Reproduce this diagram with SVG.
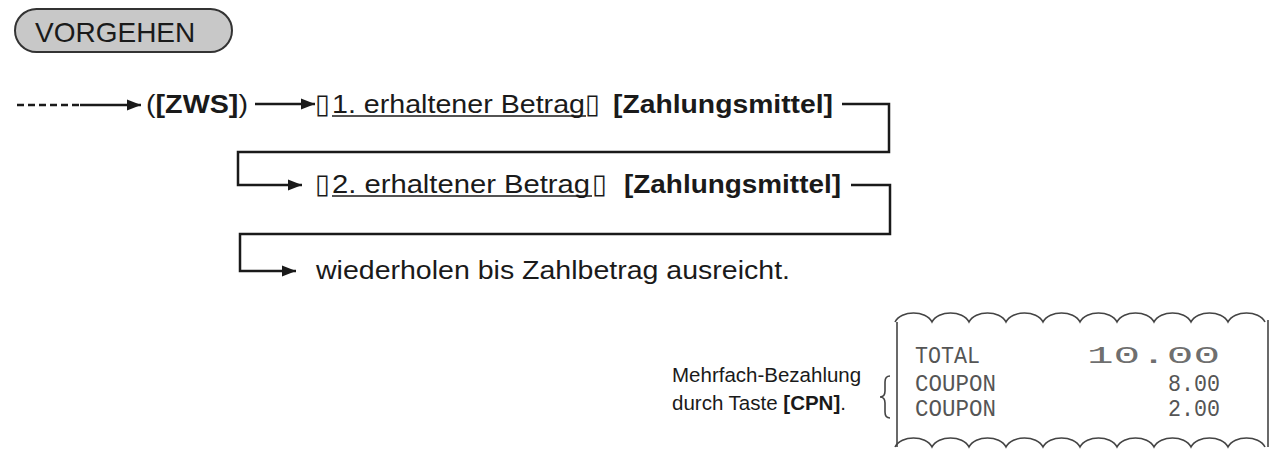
<svg xmlns="http://www.w3.org/2000/svg" width="1279" height="462" viewBox="0 0 1279 462">
<style>
.t{font-family:"Liberation Sans",Arial,sans-serif;fill:#1a1a1a}
.f{font-size:25px}
.b{font-weight:bold}
.tofu{font-family:"DejaVu Sans",sans-serif;font-size:27px;fill:#1a1a1a}
.ln{fill:none;stroke:#1a1a1a;stroke-width:2.5}
.rc{fill:none;stroke:#444;stroke-width:1.6}
.m{font-family:"Liberation Mono","DejaVu Sans Mono",monospace;font-size:23px;fill:#555}
</style>
<defs>
<marker id="ah" markerUnits="userSpaceOnUse" markerWidth="15" markerHeight="12" refX="14" refY="6" orient="auto">
<path d="M0,0.5 L14,6 L0,11.5 Z" fill="#1a1a1a"/>
</marker>
</defs>
<rect width="1279" height="462" fill="#fff"/>
<g id="vorgehen">
<rect x="15" y="9" width="217" height="43" rx="21.5" fill="#c8c8c8" stroke="#333" stroke-width="2"/>
<text class="t" x="35" y="42" font-size="28">VORGEHEN</text>
</g>
<g id="connectors">
<path class="ln" d="M17,105 H80" stroke-dasharray="7,4"/>
<path class="ln" d="M80,105 H141" marker-end="url(#ah)"/>
<path class="ln" d="M255,104 H315" marker-end="url(#ah)"/>
<path class="ln" d="M842,104 H889 V152 H238 V185 H302" marker-end="url(#ah)"/>
<path class="ln" d="M851,185 H890 V234 H240 V271 H296" marker-end="url(#ah)"/>
</g>
<g id="zws">
<text class="t f" x="146" y="113" textLength="102" lengthAdjust="spacingAndGlyphs">(<tspan class="b">[ZWS]</tspan>)</text>
</g>
<g id="step1">
<text class="tofu" x="315" y="113">▯</text>
<text class="t f" x="332" y="113" textLength="253" lengthAdjust="spacingAndGlyphs">1. erhaltener Betrag</text>
<line x1="332" y1="116" x2="586" y2="116" stroke="#1a1a1a" stroke-width="1.6"/>
<text class="tofu" x="585" y="113">▯</text>
<text class="t f b" x="613" y="113" textLength="220" lengthAdjust="spacingAndGlyphs">[Zahlungsmittel]</text>
</g>
<g id="step2">
<text class="tofu" x="315" y="193">▯</text>
<text class="t f" x="332" y="193" textLength="258" lengthAdjust="spacingAndGlyphs">2. erhaltener Betrag</text>
<line x1="332" y1="196" x2="592" y2="196" stroke="#1a1a1a" stroke-width="1.6"/>
<text class="tofu" x="592" y="193">▯</text>
<text class="t f b" x="624" y="193" textLength="217" lengthAdjust="spacingAndGlyphs">[Zahlungsmittel]</text>
</g>
<g id="repeat">
<text class="t f" x="316" y="279" textLength="474" lengthAdjust="spacingAndGlyphs">wiederholen bis Zahlbetrag ausreicht.</text>
</g>
<g id="note">
<text class="t" x="672" y="382" font-size="20.5">Mehrfach-Bezahlung</text>
<text class="t" x="672" y="410" font-size="20.5">durch Taste <tspan class="b">[CPN]</tspan>.</text>
<path class="rc" d="M890,376 q-5,0 -5,6 v9 q0,6 -5,6 q5,0 5,6 v9 q0,6 5,6"/>
</g>
<g id="receipt">
<path class="rc" d="M895,322 c6,-12 31,-12 37,0 c6,-12 31,-12 37,0 c6,-12 31,-12 37,0 c6,-12 31,-12 37,0 c6,-12 31,-12 37,0 c6,-12 31,-12 37,0 c6,-12 31,-12 37,0 c6,-12 31,-12 37,0 c6,-12 31,-12 37,0 c6,-12 31,-12 37,0"/>
<path class="rc" d="M895,447 c6,-12 31,-12 37,0 c6,-12 31,-12 37,0 c6,-12 31,-12 37,0 c6,-12 31,-12 37,0 c6,-12 31,-12 37,0 c6,-12 31,-12 37,0 c6,-12 31,-12 37,0 c6,-12 31,-12 37,0 c6,-12 31,-12 37,0 c6,-12 31,-12 37,0"/>
<line class="rc" x1="897" y1="322" x2="897" y2="447"/>
<line class="rc" x1="1268" y1="320" x2="1268" y2="447"/>
<text class="m" x="915" y="363" textLength="65" lengthAdjust="spacingAndGlyphs">TOTAL</text>
<text class="m" x="1087" y="363" textLength="133" lengthAdjust="spacingAndGlyphs" fill-opacity="0.85">10.00</text>
<text class="m" x="915" y="391" textLength="81" lengthAdjust="spacingAndGlyphs">COUPON</text>
<text class="m" x="1168" y="391" textLength="52" lengthAdjust="spacingAndGlyphs">8.00</text>
<text class="m" x="915" y="416" textLength="81" lengthAdjust="spacingAndGlyphs">COUPON</text>
<text class="m" x="1168" y="416" textLength="52" lengthAdjust="spacingAndGlyphs">2.00</text>
</g>
</svg>
